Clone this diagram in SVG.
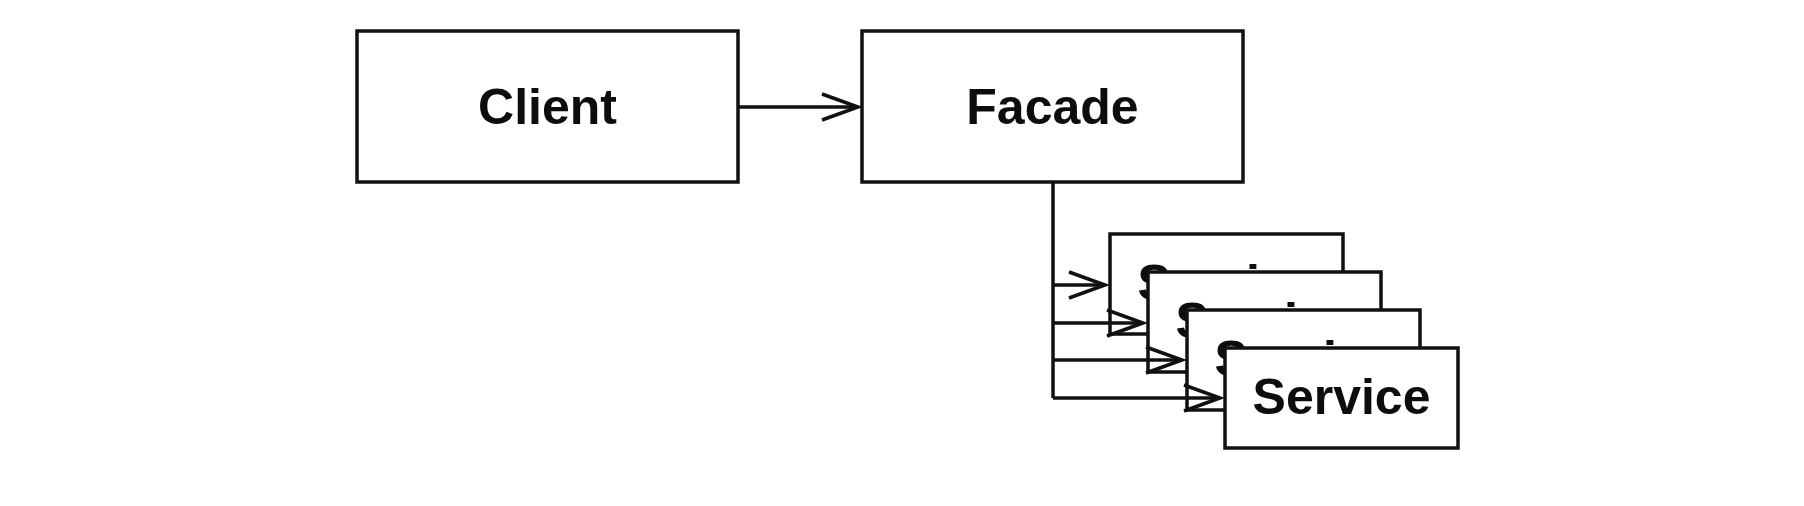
<svg xmlns="http://www.w3.org/2000/svg" width="1804" height="506" viewBox="0 0 1804 506">
<style>
.box{fill:#fff;stroke:#111;stroke-width:3.5}
.lbl{font-family:"Liberation Sans",Arial,sans-serif;font-weight:bold;font-size:50px;fill:#0d0d0d;text-anchor:middle}
.ln{fill:none;stroke:#111;stroke-width:3.5}
.hd{fill:none;stroke:#111;stroke-width:3.5;stroke-linejoin:miter}
</style>
<rect width="1804" height="506" fill="#fff"/>
<g id="client"><rect class="box" x="357" y="31" width="381" height="151"/><text class="lbl" x="547.5" y="124">Client</text></g>
<g id="facade"><rect class="box" x="862" y="31" width="381" height="151"/><text class="lbl" x="1052.5" y="124">Facade</text></g>
<g id="connectors-top">
<path class="ln" d="M738 107H858"/>
<path class="hd" d="M822 94L858 107L822 120"/>
<path class="ln" d="M1053 182V398"/>
<path class="ln" d="M1053 285H1105"/>
<path class="hd" d="M1069 272L1105 285L1069 298"/>
</g>
<g id="service1"><rect class="box" x="1110" y="234" width="233" height="100"/><text class="lbl" x="1226.5" y="300">Service</text></g>
<g id="connector2"><path class="ln" d="M1053 323H1143"/><path class="hd" d="M1107 310L1143 323L1107 336"/></g>
<g id="service2"><rect class="box" x="1148" y="272" width="233" height="100"/><text class="lbl" x="1264.5" y="338">Service</text></g>
<g id="connector3"><path class="ln" d="M1053 360H1182"/><path class="hd" d="M1146 347L1182 360L1146 373"/></g>
<g id="service3"><rect class="box" x="1187" y="310" width="233" height="100"/><text class="lbl" x="1303.5" y="376">Service</text></g>
<g id="connector4"><path class="ln" d="M1053 398H1220"/><path class="hd" d="M1184 385L1220 398L1184 411"/></g>
<g id="service4"><rect class="box" x="1225" y="348" width="233" height="100"/><text class="lbl" x="1341.5" y="414">Service</text></g>
</svg>
